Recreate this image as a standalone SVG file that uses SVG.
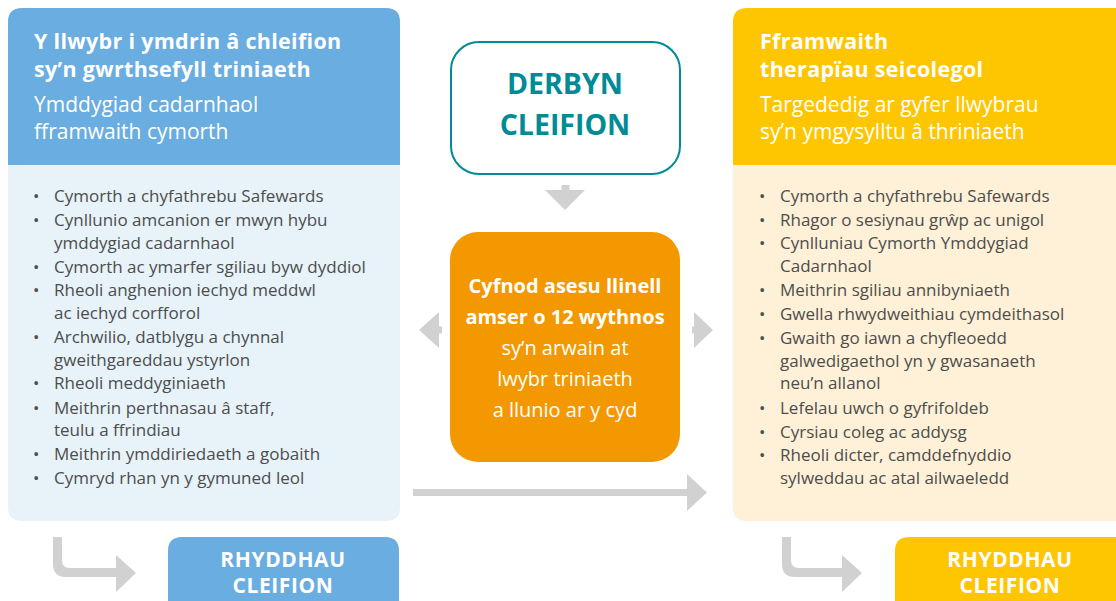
<svg xmlns="http://www.w3.org/2000/svg" width="1116" height="601" viewBox="0 0 1116 601">
<style>
.t{font-family:"Open Sans","Noto Sans","DejaVu Sans",sans-serif;}
.h{font-weight:700;font-size:21.5px;fill:#fff;letter-spacing:0.3px;}
.s{font-size:21px;fill:#fff;}
.b{font-size:17px;fill:#4d4d4d;}
.c{font-weight:700;font-size:28.5px;fill:#008b96;text-anchor:middle;}
.o{font-size:20px;fill:#fff;text-anchor:middle;}
.r{font-weight:700;font-size:21px;fill:#fff;text-anchor:middle;letter-spacing:0.6px;}
.arr{fill:#d1d1d1;}
</style>
<rect width="1116" height="601" fill="#fff"/>
<g id="left-panel">
<path d="M8,165 V22 Q8,8 22,8 H386 Q400,8 400,22 V165 Z" fill="#6aade0"/>
<path d="M8,165 H400 V507 Q400,521 386,521 H22 Q8,521 8,507 Z" fill="#e7f3f9"/>
<text class="t h" x="34" y="49">Y llwybr i ymdrin â chleifion</text>
<text class="t h" x="34" y="77">sy’n gwrthsefyll triniaeth</text>
<text class="t s" x="34" y="112">Ymddygiad cadarnhaol</text>
<text class="t s" x="34" y="139">fframwaith cymorth</text>
<g class="t b">
<text x="33" y="202">•</text><text x="54" y="202">Cymorth a chyfathrebu Safewards</text>
<text x="33" y="226">•</text><text x="54" y="226">Cynllunio amcanion er mwyn hybu</text>
<text x="54" y="249">ymddygiad cadarnhaol</text>
<text x="33" y="273">•</text><text x="54" y="273">Cymorth ac ymarfer sgiliau byw dyddiol</text>
<text x="33" y="296">•</text><text x="54" y="296">Rheoli anghenion iechyd meddwl</text>
<text x="54" y="319">ac iechyd corfforol</text>
<text x="33" y="343">•</text><text x="54" y="343">Archwilio, datblygu a chynnal</text>
<text x="54" y="366">gweithgareddau ystyrlon</text>
<text x="33" y="389">•</text><text x="54" y="389">Rheoli meddyginiaeth</text>
<text x="33" y="414">•</text><text x="54" y="414">Meithrin perthnasau â staff,</text>
<text x="54" y="436">teulu a ffrindiau</text>
<text x="33" y="460">•</text><text x="54" y="460">Meithrin ymddiriedaeth a gobaith</text>
<text x="33" y="484">•</text><text x="54" y="484">Cymryd rhan yn y gymuned leol</text>
</g>
</g>
<g id="right-panel">
<path d="M733,165 V22 Q733,8 747,8 H1130 V165 Z" fill="#fec600"/>
<path d="M733,165 H1130 V521 H747 Q733,521 733,507 Z" fill="#fef1d7"/>
<text class="t h" x="760" y="49">Fframwaith</text>
<text class="t h" x="760" y="77">therapïau seicolegol</text>
<text class="t s" x="760" y="112">Targededig ar gyfer llwybrau</text>
<text class="t s" x="760" y="139">sy’n ymgysylltu â thriniaeth</text>
<g class="t b">
<text x="759" y="202">•</text><text x="780" y="202">Cymorth a chyfathrebu Safewards</text>
<text x="759" y="226">•</text><text x="780" y="226">Rhagor o sesiynau grŵp ac unigol</text>
<text x="759" y="249">•</text><text x="780" y="249">Cynlluniau Cymorth Ymddygiad</text>
<text x="780" y="272">Cadarnhaol</text>
<text x="759" y="296">•</text><text x="780" y="296">Meithrin sgiliau annibyniaeth</text>
<text x="759" y="320">•</text><text x="780" y="320">Gwella rhwydweithiau cymdeithasol</text>
<text x="759" y="344">•</text><text x="780" y="344">Gwaith go iawn a chyfleoedd</text>
<text x="780" y="367">galwedigaethol yn y gwasanaeth</text>
<text x="780" y="389">neu’n allanol</text>
<text x="759" y="414">•</text><text x="780" y="414">Lefelau uwch o gyfrifoldeb</text>
<text x="759" y="438">•</text><text x="780" y="438">Cyrsiau coleg ac addysg</text>
<text x="759" y="461">•</text><text x="780" y="461">Rheoli dicter, camddefnyddio</text>
<text x="780" y="484">sylweddau ac atal ailwaeledd</text>
</g>
</g>
<g id="admission">
<rect x="451" y="42" width="229" height="132" rx="28" fill="#fff" stroke="#008b96" stroke-width="2"/>
<text class="t c" x="565" y="94">DERBYN</text>
<text class="t c" x="565" y="135">CLEIFION</text>
</g>
<g id="assessment">
<rect x="450" y="232" width="230" height="230" rx="28" fill="#f39800"/>
<text class="t o" x="565" y="293" font-weight="700">Cyfnod asesu llinell</text>
<text class="t o" x="565" y="324" font-weight="700">amser o 12 wythnos</text>
<text class="t o" x="565" y="355">sy’n arwain at</text>
<text class="t o" x="565" y="386">lwybr triniaeth</text>
<text class="t o" x="565" y="417">a llunio ar y cyd</text>
</g>
<g id="discharge-left">
<path d="M168,551 Q168,537 182,537 H385 Q399,537 399,551 V601 H168 Z" fill="#6aade0"/>
<text class="t r" x="283" y="567">RHYDDHAU</text>
<text class="t r" x="283" y="593">CLEIFION</text>
</g>
<g id="discharge-right">
<path d="M895,551 Q895,537 909,537 H1130 V601 H895 Z" fill="#fec600"/>
<text class="t r" x="1010" y="567">RHYDDHAU</text>
<text class="t r" x="1010" y="593">CLEIFION</text>
</g>
<g id="connectors">
<path class="arr" d="M561.5,185 H569.5 V190 H585 L565,210 L545,190 H561.5 Z"/>
<path class="arr" d="M442,326.5 H439 V312 L419,330 L439,348 V333.5 H442 Z"/>
<path class="arr" d="M692,326.5 H694 V312 L713,330 L694,348 V333.5 H692 Z"/>
<path class="arr" d="M413,489 H687 V474 L707,492.5 L687,511 V496 H413 Z"/>
<path class="arr" d="M53,537 H62 V560 Q62,568 70,568 H116 V555 L136,573 L116,592 V577 H66 Q53,577 53,564 Z"/>
<path class="arr" d="M782,537 H791 V560 Q791,568 799,568 H842 V555 L862,573 L842,592 V577 H795 Q782,577 782,564 Z"/>
</g>
</svg>
